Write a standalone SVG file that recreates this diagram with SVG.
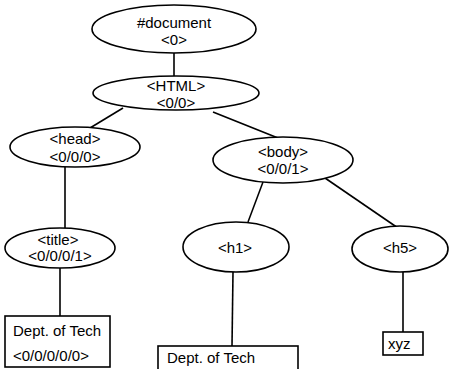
<svg xmlns="http://www.w3.org/2000/svg" width="450" height="369" viewBox="0 0 450 369">
<style>
.n{fill:#fff;stroke:#000;stroke-width:1.6}
.e line{stroke:#000;stroke-width:1.6}
text{font-family:"Liberation Sans",Arial,sans-serif;font-size:15px;fill:#000}
.c{text-anchor:middle}
</style>
<rect width="450" height="369" fill="#fff"/>
<g class="e" id="connectors">
<line x1="174" y1="53" x2="174" y2="76"/>
<line x1="123" y1="108" x2="90" y2="128"/>
<line x1="213" y1="112" x2="278" y2="138"/>
<line x1="65" y1="167" x2="65" y2="228"/>
<line x1="263" y1="182" x2="248" y2="222"/>
<line x1="325" y1="178" x2="398" y2="228"/>
<line x1="60" y1="268" x2="60" y2="316"/>
<line x1="233" y1="272" x2="232" y2="346"/>
<line x1="403" y1="272" x2="403" y2="332"/>
</g>
<g id="document"><ellipse class="n" cx="174" cy="29" rx="82" ry="24"/><text class="c" x="174" y="28">#document</text><text class="c" x="174" y="45">&lt;0&gt;</text></g>
<g id="html"><ellipse class="n" cx="176" cy="93" rx="83" ry="17"/><text class="c" x="176" y="91">&lt;HTML&gt;</text><text class="c" x="176" y="108">&lt;0/0&gt;</text></g>
<g id="head"><ellipse class="n" cx="75" cy="147" rx="65" ry="20"/><text class="c" x="75" y="144">&lt;head&gt;</text><text class="c" x="75" y="162">&lt;0/0/0&gt;</text></g>
<g id="body"><ellipse class="n" cx="283" cy="160" rx="70" ry="23"/><text class="c" x="283" y="157">&lt;body&gt;</text><text class="c" x="283" y="174">&lt;0/0/1&gt;</text></g>
<g id="title"><ellipse class="n" cx="60" cy="248" rx="55" ry="20"/><text class="c" x="58" y="245">&lt;title&gt;</text><text class="c" x="60" y="261">&lt;0/0/0/1&gt;</text></g>
<g id="h1"><ellipse class="n" cx="236" cy="247" rx="53" ry="25"/><text class="c" x="235" y="253">&lt;h1&gt;</text></g>
<g id="h5"><ellipse class="n" cx="400" cy="249" rx="48" ry="23"/><text class="c" x="400" y="253">&lt;h5&gt;</text></g>
<g id="text1"><rect class="n" x="5" y="316" width="105" height="51"/><text x="13" y="336">Dept. of Tech</text><text x="13" y="361">&lt;0/0/0/0/0&gt;</text></g>
<g id="text2"><rect class="n" x="158" y="346" width="140" height="30"/><text x="167" y="363">Dept. of Tech</text></g>
<g id="text3"><rect class="n" x="383" y="332" width="40" height="23"/><text x="388" y="349">xyz</text></g>
</svg>
